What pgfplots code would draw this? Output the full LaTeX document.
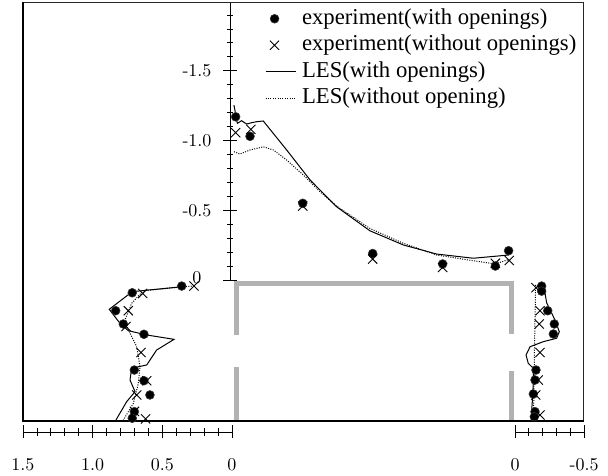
\documentclass[border=0pt]{standalone}
\usepackage{fontspec}
\newfontfamily\legendfont{Liberation Serif}
\newfontfamily\tickfont{lmroman10-regular}[Extension=.otf]
\usepackage{pgfplots}
\pgfplotsset{compat=1.18}

\definecolor{wallgray}{RGB}{178,178,178}

\pgfplotsset{
  profile/.style={scale only axis, clip=false,
    tick label style={font=\tickfont\fontsize{18}{18}\selectfont},
    tick style={line width=0.8pt, black},
    tick align=outside,
  },
  expwith/.style={only marks, mark=*, mark size=4.4pt,
    mark options={fill=black, draw=black!80, line width=0.6pt}},
  expwithout/.style={only marks, mark=x, mark size=6.5pt,
    mark options={line width=0.9pt, black}},
  leswith/.style={no marks, line width=1pt, black},
  leswithout/.style={no marks, line width=1pt, black, dash pattern=on 1pt off 1.4pt},
}

\begin{document}
\begin{tikzpicture}[x=1pt,y=1pt]
\path (0,0) rectangle (608,476);

% outer frame and building outline
\begin{axis}[at={(23pt,55pt)}, anchor=south west, scale only axis,
  width=560pt, height=418pt, xmin=0, xmax=560, ymin=0, ymax=418,
  hide axis, clip=false]
  \draw[line width=1pt, black!85] (axis cs:0,418) -- (axis cs:560,418) -- (axis cs:560,0);
  \draw[line width=2.5pt, black] (axis cs:0,419) -- (axis cs:0,0) -- (axis cs:561,0);
  \addplot[wallgray, line width=5pt, line join=miter] coordinates {(213,86) (213,137) (488,137) (488,87)};
  \addplot[wallgray, line width=5pt] coordinates {(213,1) (213,54)};
  \addplot[wallgray, line width=5pt] coordinates {(488,1) (488,50)};
\end{axis}

% roof: pressure coefficient along the roof
\begin{axis}[profile, at={(230pt,196pt)}, anchor=south west,
  width=282pt, height=277pt,
  xmin=0, xmax=1, ymin=-1.986, ymax=0, y dir=reverse,
  axis x line=none, axis y line=left, y axis line style={-, line width=0.8pt},
  ytick={-1.5,-1,-0.5,0}, yticklabels={-1.5,-1.0,-0.5,\raisebox{5pt}{0}},
  minor ytick={-1.9,-1.8,-1.7,-1.6,-1.4,-1.3,-1.2,-1.1,-0.9,-0.8,-0.7,-0.6,-0.4,-0.3,-0.2,-0.1},
  major tick length=14pt, minor tick length=6pt,
  yticklabel style={anchor=center, xshift=-26pt},
  legend style={at={(axis description cs:0.113,0.988)}, anchor=north west,
    draw=none, fill=none,
    font=\legendfont\fontsize{22.7}{24}\selectfont,
    nodes={inner sep=0pt, text height=15.5pt, text depth=5pt},
    row sep=6pt, /tikz/every odd column/.append style={column sep=6pt}},
  legend cell align=left,
  legend image code/.code={\draw[mark repeat=2,mark phase=2,#1]
    plot coordinates {(0pt,0pt) (9pt,0pt) (30pt,0pt)};},
]
\addplot[expwith] coordinates {
  (0.020,-1.17) (0.071,-1.03) (0.258,-0.55) (0.506,-0.19)
  (0.754,-0.115) (0.941,-0.10) (0.988,-0.21)};
\addlegendentry{experiment(with openings)}
\addplot[expwithout] coordinates {
  (0.020,-1.056) (0.074,-1.08) (0.258,-0.53) (0.506,-0.15)
  (0.754,-0.09) (0.941,-0.12) (0.990,-0.14)};
\addlegendentry{experiment(without openings)}
\addplot[leswith] coordinates {
  (0.014,-1.254) (0.026,-1.123) (0.041,-1.142) (0.059,-1.118)
  (0.077,-1.128) (0.095,-1.135) (0.118,-1.14) (0.201,-0.932)
  (0.284,-0.717) (0.378,-0.525) (0.496,-0.353) (0.615,-0.251)
  (0.733,-0.186) (0.863,-0.156) (0.988,-0.179)};
\addlegendentry{LES(with openings)}
\addplot[leswithout] coordinates {
  (0.014,-0.92) (0.035,-0.903) (0.071,-0.932) (0.118,-0.955)
  (0.154,-0.932) (0.201,-0.86) (0.26,-0.753) (0.319,-0.633)
  (0.378,-0.53) (0.496,-0.37) (0.615,-0.263) (0.733,-0.179)
  (0.863,-0.138) (0.941,-0.115) (0.990,-0.148)};
\addlegendentry{LES(without opening)}
\end{axis}

% windward wall
\begin{axis}[profile, at={(23pt,44pt)}, anchor=south west,
  width=209pt, height=148pt,
  xmin=0, xmax=1.5, x dir=reverse, ymin=-0.0803, ymax=1,
  axis y line=none, axis x line=bottom, x axis line style={-, line width=0.8pt},
  xtick={0,0.5,1,1.5}, xticklabels={0,0.5,1.0,1.5}, minor x tick num=4,
  major tick length=13pt, minor tick length=7.5pt,
  xticklabel style={yshift=-16pt},
]
\addplot[expwith] coordinates {
  (0.361,0.985) (0.716,0.936) (0.835,0.805) (0.780,0.708) (0.632,0.633)
  (0.701,0.372) (0.632,0.294) (0.589,0.190) (0.701,0.068) (0.716,0.020)};
\addplot[expwithout] coordinates {
  (0.273,0.985) (0.641,0.931) (0.744,0.805) (0.761,0.690) (0.653,0.500)
  (0.612,0.294) (0.684,0.190) (0.700,0.070) (0.620,0.015)};
\addplot[leswith] coordinates {
  (0.361,0.980) (0.716,0.944) (0.881,0.815) (0.804,0.713) (0.744,0.659)
  (0.612,0.628) (0.416,0.596) (0.541,0.518) (0.612,0.409) (0.720,0.385)
  (0.732,0.299) (0.696,0.214) (0.756,0.141) (0.833,0.007)};
\addplot[leswithout] coordinates {
  (0.289,0.985) (0.637,0.951) (0.720,0.859) (0.768,0.737) (0.744,0.664)
  (0.684,0.542) (0.660,0.396) (0.672,0.275) (0.708,0.129) (0.780,0.007)};
\end{axis}

% leeward wall
\begin{axis}[profile, at={(515pt,44pt)}, anchor=south west,
  width=69pt, height=148pt,
  xmin=-0.5, xmax=0, x dir=reverse, ymin=-0.0803, ymax=1,
  axis y line=none, axis x line=bottom, x axis line style={-, line width=0.8pt},
  xtick={-0.5,0}, xticklabels={-0.5,0}, minor xtick={-0.4,-0.3,-0.2,-0.1},
  major tick length=13pt, minor tick length=7.5pt,
  xticklabel style={yshift=-16pt},
]
\addplot[expwith] coordinates {
  (-0.193,0.985) (-0.193,0.948) (-0.237,0.805) (-0.285,0.708) (-0.278,0.635)
  (-0.152,0.372) (-0.145,0.299) (-0.133,0.197) (-0.145,0.068) (-0.140,0.031)};
\addplot[expwithout] coordinates {
  (-0.152,0.973) (-0.181,0.805) (-0.176,0.708) (-0.181,0.500)
  (-0.169,0.299) (-0.150,0.190) (-0.181,0.044)};
\addplot[leswith] coordinates {
  (-0.205,1.0) (-0.230,0.861) (-0.290,0.737) (-0.321,0.652) (-0.302,0.604)
  (-0.205,0.579) (-0.109,0.542) (-0.080,0.482) (-0.096,0.421) (-0.133,0.385)
  (-0.133,0.299) (-0.128,0.177) (-0.121,0.080) (-0.121,0.007)};
\addplot[leswithout] coordinates {
  (-0.149,0.993) (-0.145,0.737) (-0.141,0.518) (-0.138,0.299) (-0.134,0.007)};
\end{axis}
\end{tikzpicture}
\end{document}
